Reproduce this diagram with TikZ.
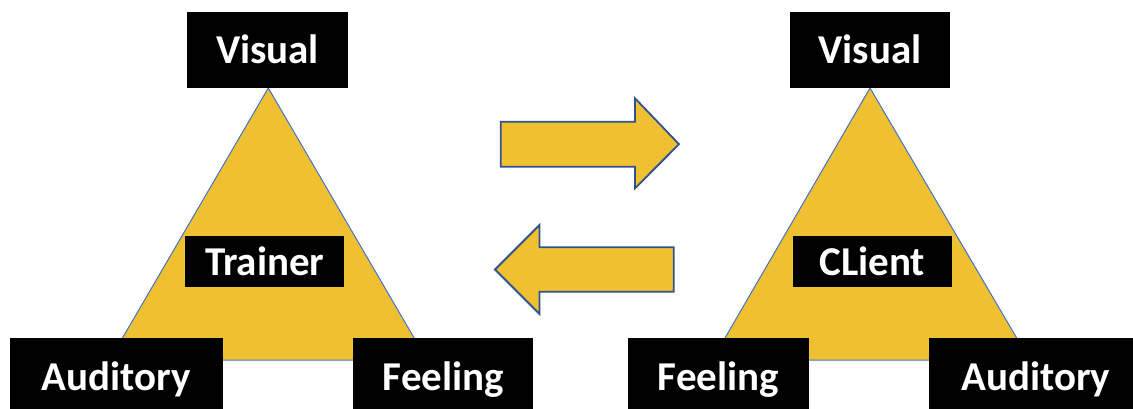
\documentclass[tikz,border=0pt]{standalone}
\usepackage{fontspec}
\setmainfont{Carlito}
\definecolor{gold}{RGB}{239,193,50}
\definecolor{triline}{RGB}{68,114,196}
\definecolor{arrline}{RGB}{47,82,143}
\tikzset{
  lab/.style={fill=black, text=white, font=\fontsize{41}{49}\selectfont\bfseries,
    inner sep=0pt, text height=28pt, text depth=0pt, align=center},
  bigbox/.style={lab, minimum height=76pt},
  midbox/.style={lab, minimum height=51.5pt},
  trishape/.style={fill=gold, draw=triline, line width=1pt, line join=miter},
  arrshape/.style={fill=gold, draw=arrline, line width=1.8pt, line join=miter},
}
\begin{document}
\begin{tikzpicture}[x=1pt,y=-1pt]
\useasboundingbox (0,0) rectangle (1133,409);
\clip (0,0) rectangle (1133,409);

% triangles
\coordinate (LA) at (268.3,88);
\coordinate (LB) at (109.6,360);
\coordinate (LC) at (427,360);
\draw[trishape] (LA) -- (LB) -- (LC) -- cycle;

\coordinate (RA) at (870,88);
\coordinate (RB) at (712.2,360);
\coordinate (RC) at (1029.6,360);
\draw[trishape] (RA) -- (RB) -- (RC) -- cycle;

% arrows
\draw[arrshape] (500.7,121.7) -- (635,121.7) -- (635,98.3) -- (679,144.2)
  -- (635,188.3) -- (635,166.7) -- (500.7,166.7) -- cycle;
\draw[arrshape] (673.7,247.3) -- (539.5,247.3) -- (539.5,225) -- (495,269.5)
  -- (539.5,314) -- (539.5,291.7) -- (673.7,291.7) -- cycle;

% left group
\node[bigbox, minimum width=161.6pt] (LV) at (267.5,49.7) {Visual};
\node[midbox, minimum width=159.5pt] (LT) at (264.7,261.3) {Trainer};
\node[bigbox, minimum width=212.5pt] (LAud) at (116.25,376) {Auditory};
\node[bigbox, minimum width=180pt] (LF) at (443.3,376) {Feeling};

% right group
\node[bigbox, minimum width=160pt] (RV) at (870,49.7) {Visual};
\node[midbox, minimum width=159pt] (RT) at (872.2,261.3) {CLient};
\node[bigbox, minimum width=180.2pt] (RF) at (718.4,376) {Feeling};
\node[bigbox, minimum width=212.5pt] (RAud) at (1035.7,376) {Auditory};
\end{tikzpicture}
\end{document}
